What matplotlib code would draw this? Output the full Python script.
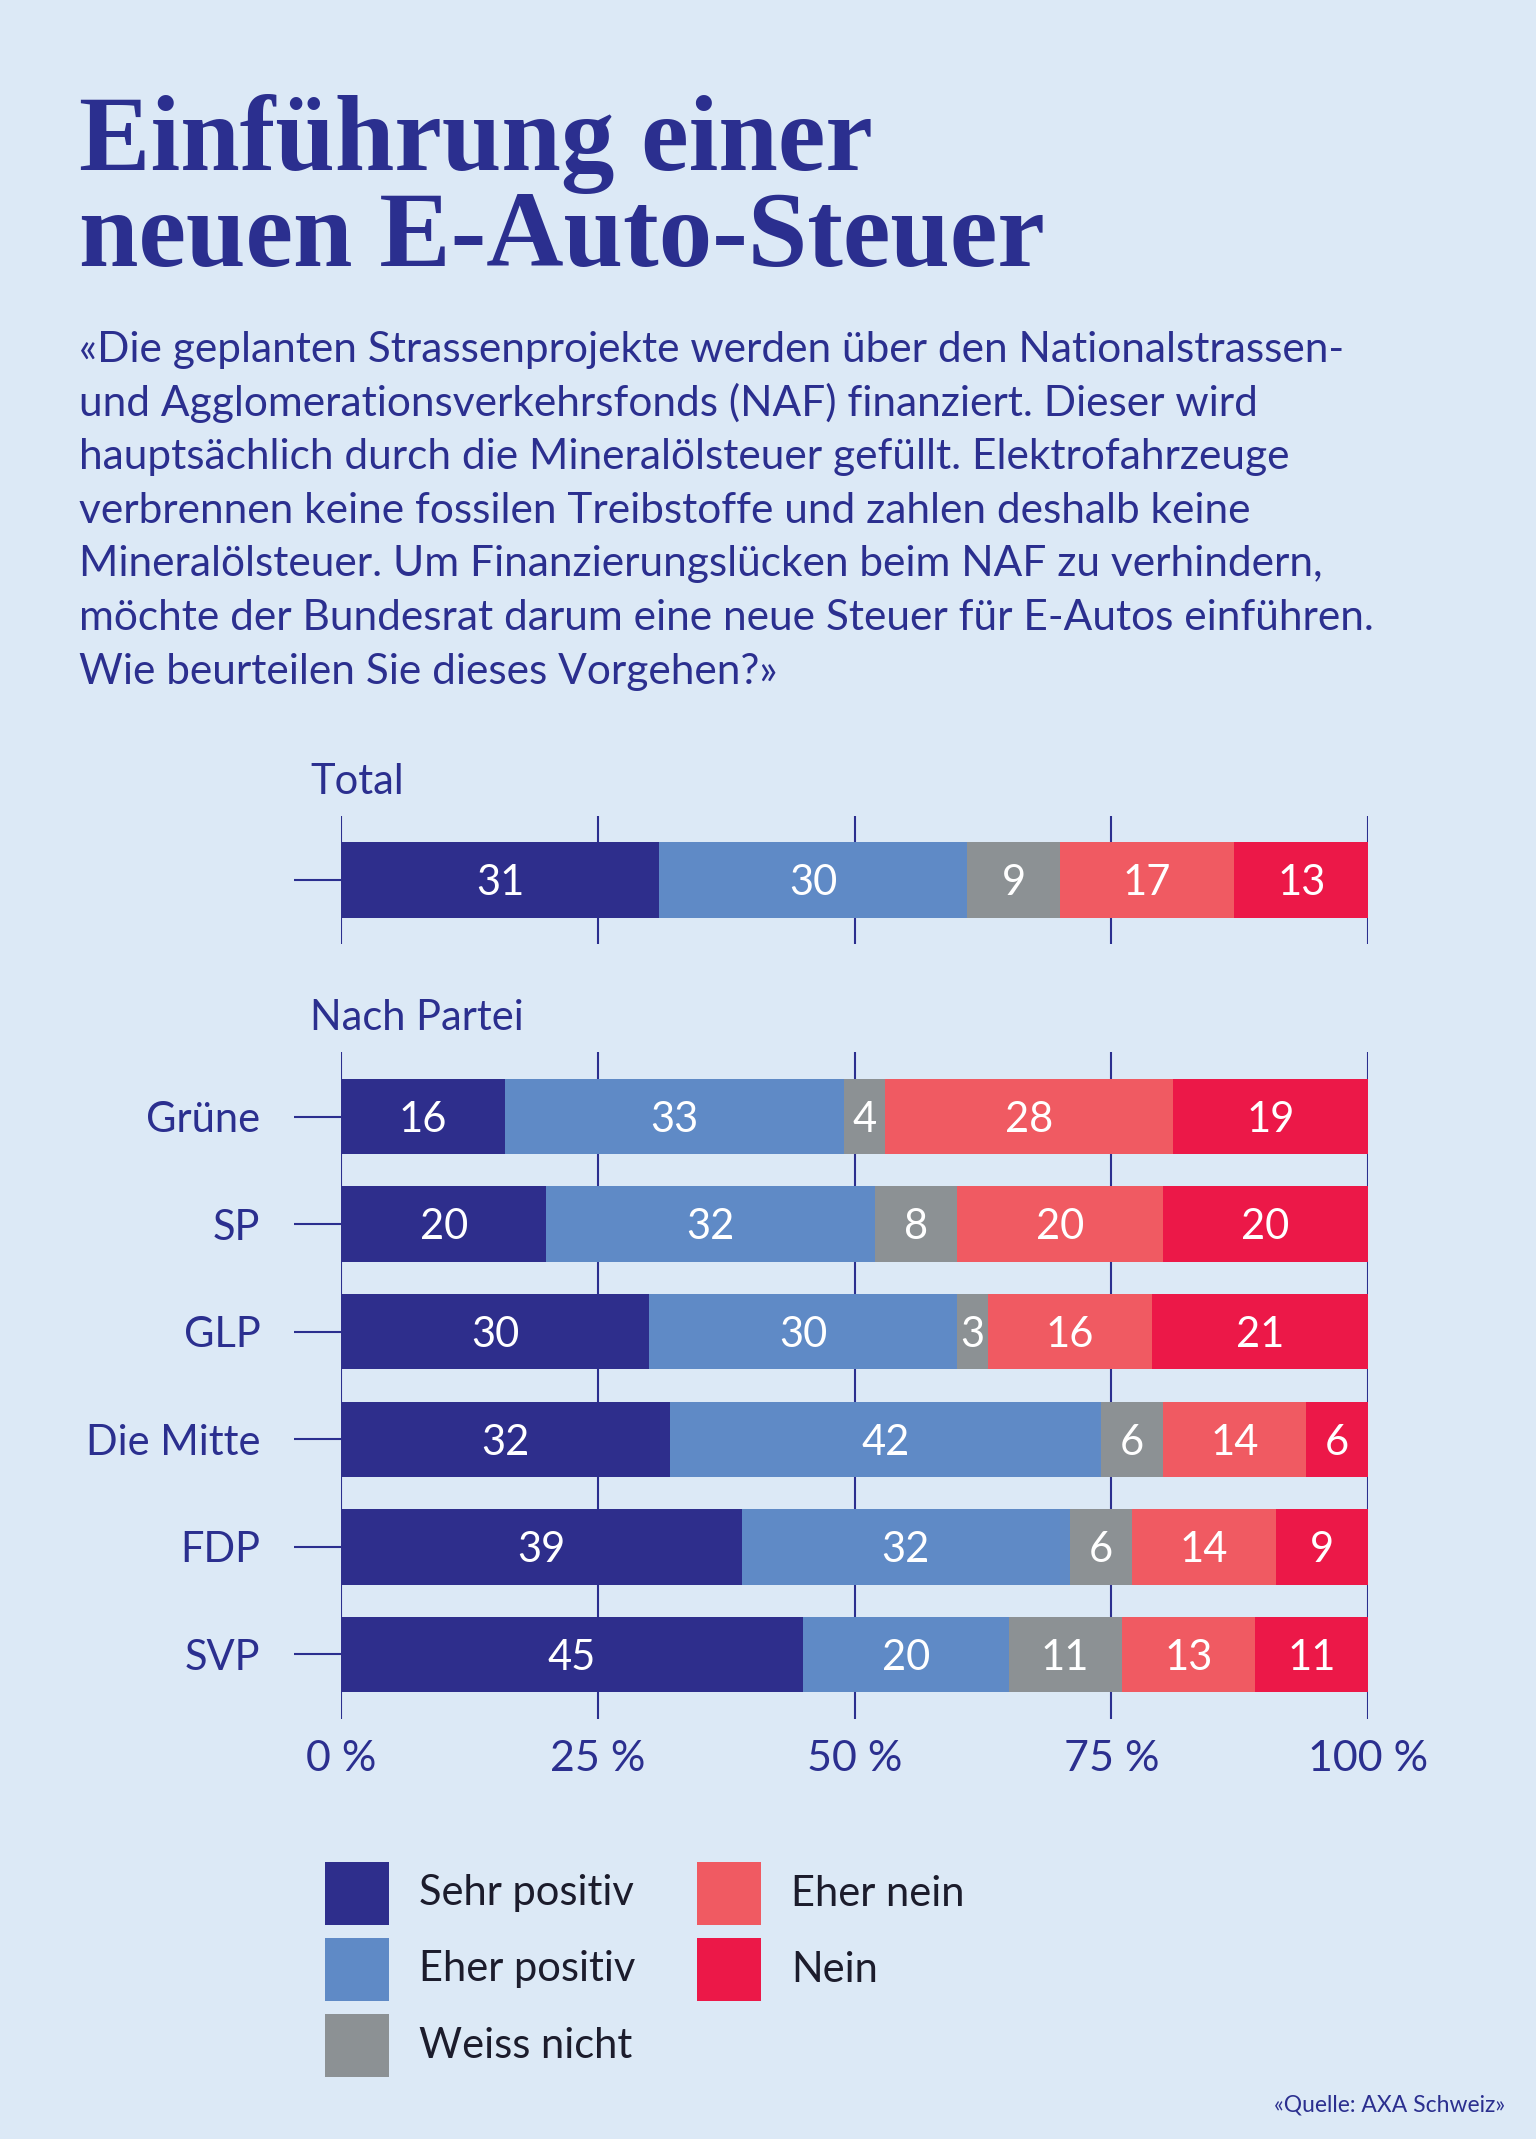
import matplotlib
matplotlib.use("Agg")
import matplotlib.pyplot as plt
from matplotlib.patches import Rectangle

# data
categories = ["Sehr positiv", "Eher positiv", "Weiss nicht", "Eher nein", "Nein"]
colors = ["#2E2E8C", "#5F8AC6", "#8C9194", "#F05A62", "#EC1848"]

total = [31, 30, 9, 17, 13]

parties = ["Grüne", "SP", "GLP", "Die Mitte", "FDP", "SVP"]
sehr_positiv = [16, 20, 30, 32, 39, 45]
eher_positiv = [33, 32, 30, 42, 32, 20]
weiss_nicht = [4, 8, 3, 6, 6, 11]
eher_nein = [28, 20, 16, 14, 14, 13]
nein = [19, 20, 21, 6, 9, 11]

xticks = [0, 25, 50, 75, 100]
xticklabels = ["0 %", "25 %", "50 %", "75 %", "100 %"]

title_lines = ["Einführung einer", "neuen E-Auto-Steuer"]
body_lines = [
    "«Die geplanten Strassenprojekte werden über den Nationalstrassen-",
    "und Agglomerationsverkehrsfonds (NAF) finanziert. Dieser wird",
    "hauptsächlich durch die Mineralölsteuer gefüllt. Elektrofahrzeuge",
    "verbrennen keine fossilen Treibstoffe und zahlen deshalb keine",
    "Mineralölsteuer. Um Finanzierungslücken beim NAF zu verhindern,",
    "möchte der Bundesrat darum eine neue Steuer für E-Autos einführen.",
    "Wie beurteilen Sie dieses Vorgehen?»",
]
source = "«Quelle: AXA Schweiz»"

BG = "#DCE9F6"
NAVY = "#2B2F8F"
SANS = ["Lato", "DejaVu Sans"]

W, H = 1536, 2139
fig = plt.figure(figsize=(W / 100, H / 100), dpi=100, facecolor=BG)


def fy(py):
    return 1 - py / H


# title
for i, line in enumerate(title_lines):
    fig.text(79 / W, fy(170 + i * 96), line, fontsize=77, fontweight="bold",
             family="Liberation Serif", color=NAVY, va="baseline", ha="left")

# intro text
for i, line in enumerate(body_lines):
    fig.text(79 / W, fy(362 + i * 53.6), line, fontsize=30.5, family=SANS,
             color=NAVY, va="baseline", ha="left")

fig.text(310 / W, fy(782), "Total", fontsize=30, family=SANS, color=NAVY, va="center")
fig.text(310 / W, fy(1018), "Nach Partei", fontsize=30, family=SANS, color=NAVY, va="center")

unit = 107.5  # pixels per bar row
bar_h = 0.7


def style_axes(ax, labels):
    ax.set_facecolor("none")
    for s in ax.spines.values():
        s.set_visible(False)
    ax.set_xlim(0, 100)
    for t in xticks:
        ax.axvline(t, color=NAVY, lw=1.5, zorder=0)
    ax.set_yticks(range(len(labels)))
    ax.set_yticklabels(labels, fontsize=30, family=SANS, color=NAVY)
    ax.tick_params(axis="y", length=34, width=1.5, color=NAVY, pad=24)


def draw_stack(ax, rows):
    n = len(rows[0])
    left = [0] * n
    for vals, col in zip(rows, colors):
        bars = ax.barh(range(n), vals, left=left, height=bar_h, color=col, zorder=2)
        for b, v in zip(bars, vals):
            ax.text(b.get_x() + b.get_width() / 2, b.get_y() + b.get_height() / 2 + 0.03,
                    str(v), ha="center", va="center", color="white",
                    fontsize=30, family=SANS, zorder=3)
        left = [l + v for l, v in zip(left, vals)]


# total panel
ax1 = fig.add_axes([341 / W, fy(944), 1027 / W, 128 / H])
style_axes(ax1, [""])
draw_stack(ax1, [[v] for v in total])
ax1.set_ylim(64 / unit, -64 / unit)
ax1.set_xticks([])

# party panel
ax2 = fig.add_axes([341 / W, fy(1719), 1027 / W, 667 / H])
style_axes(ax2, parties)
draw_stack(ax2, [sehr_positiv, eher_positiv, weiss_nicht, eher_nein, nein])
ax2.set_ylim(len(parties) - 1 + 0.6, -0.6)
ax2.set_xticks(xticks)
ax2.set_xticklabels(xticklabels, fontsize=31, family=SANS, color=NAVY)
ax2.tick_params(axis="x", length=0, pad=15)

# legend: two columns, three rows in the first
col_x = [325, 697]
row_top = 1862
row_pitch = 76
sq_w, sq_h = 64, 63
for i, (lab, col) in enumerate(zip(categories, colors)):
    c, r = divmod(i, 3)
    x0 = col_x[c]
    y0 = row_top + r * row_pitch
    fig.add_artist(Rectangle((x0 / W, fy(y0 + sq_h)), sq_w / W, sq_h / H,
                             transform=fig.transFigure, facecolor=col, edgecolor="none"))
    fig.text((x0 + sq_w + 30) / W, fy(y0 + sq_h / 2), lab, fontsize=30, family=SANS,
             color="#1C1C2C", va="center", ha="left")

fig.text(1505 / W, fy(2105), source, fontsize=16.5, family=SANS, color=NAVY,
         ha="right", va="center")

fig.savefig("out.png", dpi=100, facecolor=BG)
